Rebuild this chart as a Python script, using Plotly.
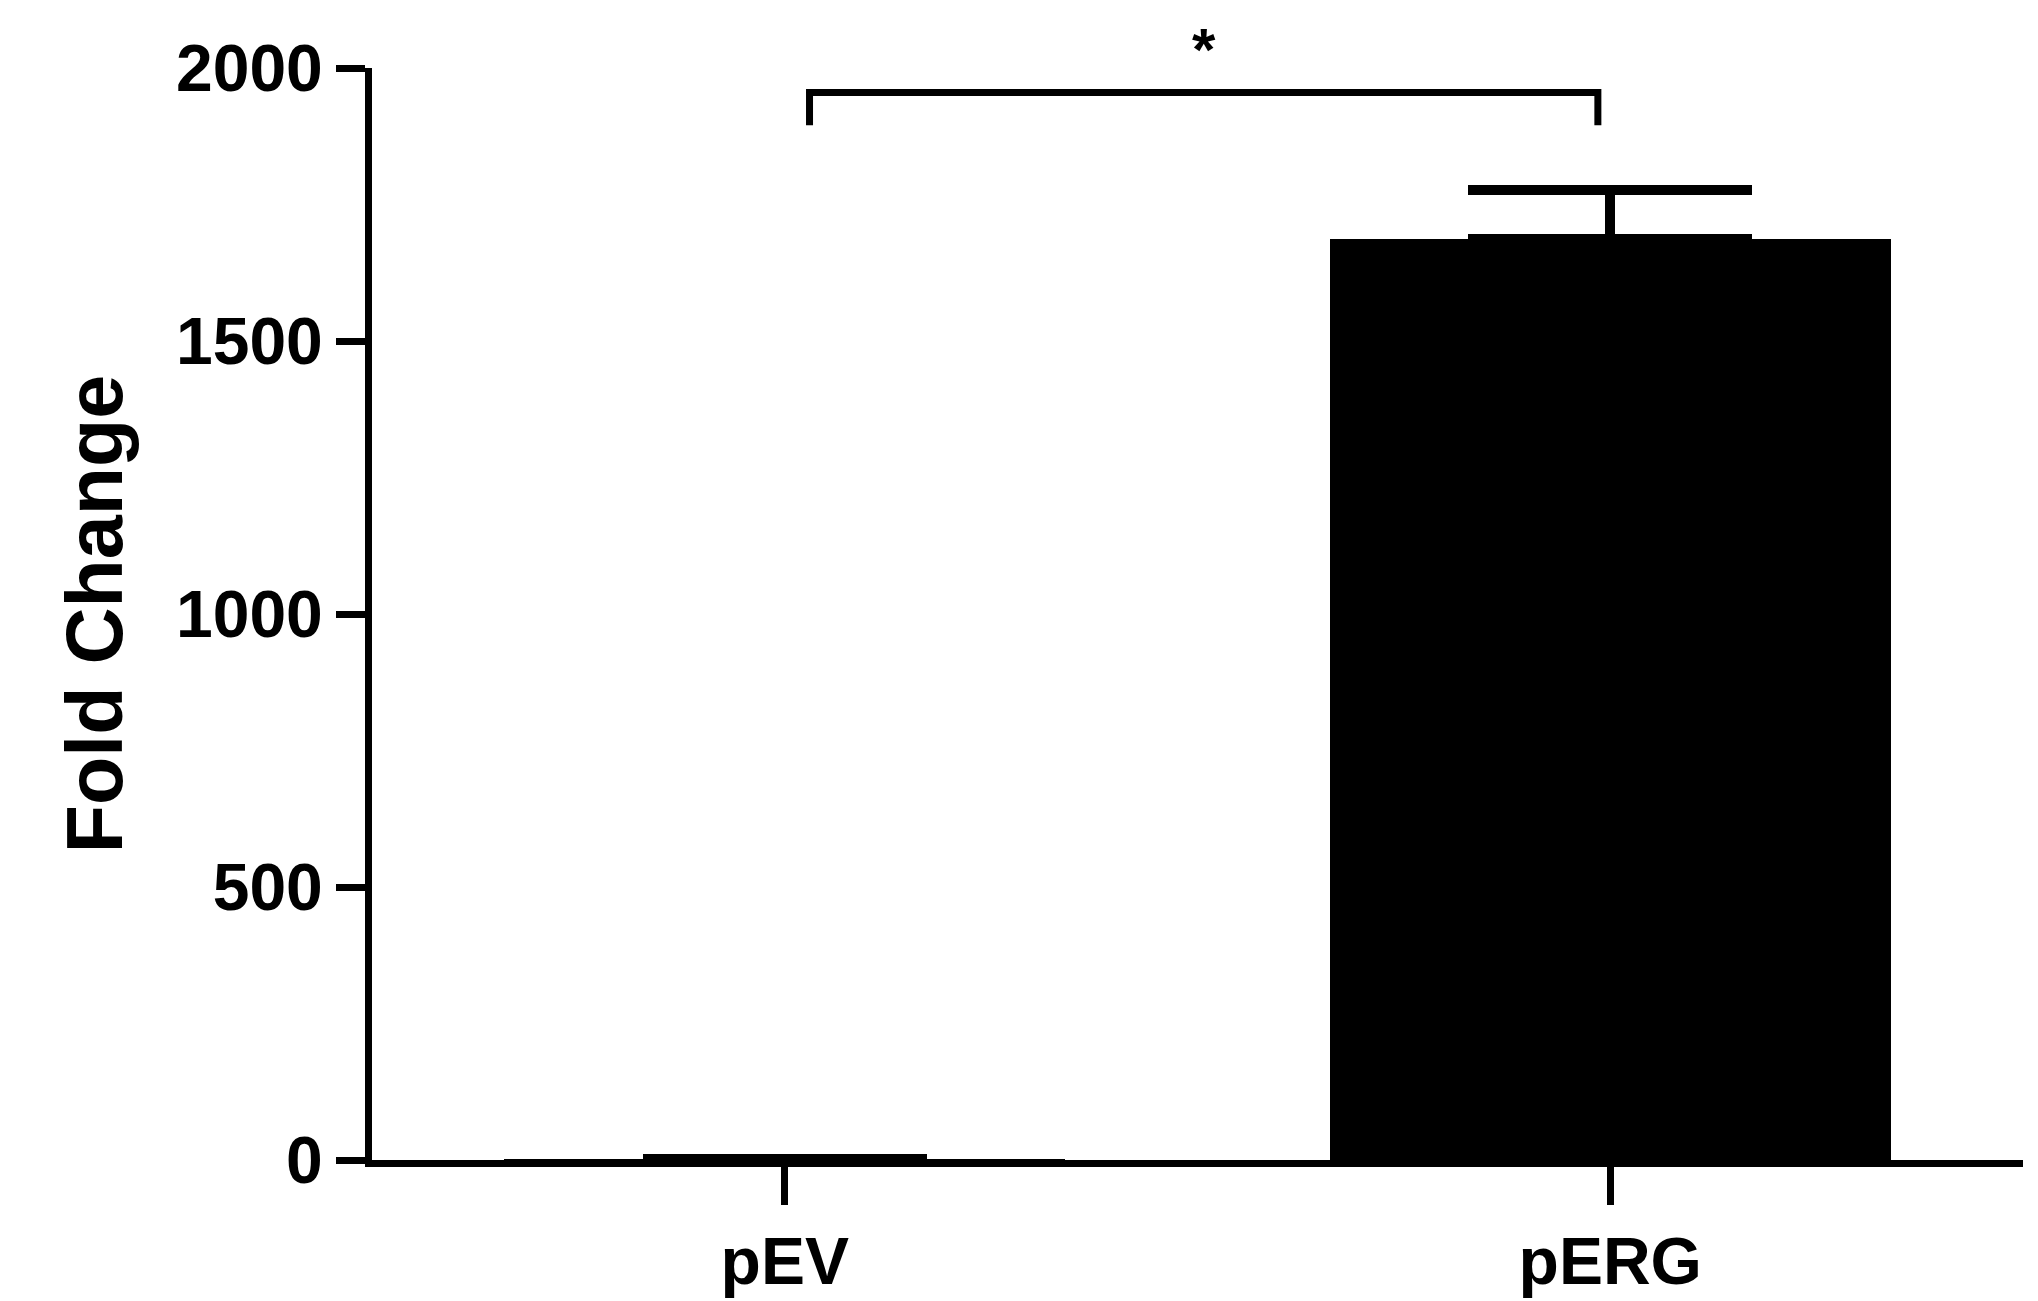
import plotly.graph_objects as go

categories = ["pEV", "pERG"]
values = [1, 1686]
err_plus = [0, 90]
y_ticks = [0, 500, 1000, 1500, 2000]
sig_label = "*"
bracket_y = 1955
bracket_drop = 1895

fig = go.Figure()
fig.add_trace(go.Bar(
    x=[0, 1], y=values, width=0.68,
    marker=dict(color="black", line=dict(width=0)),
    error_y=dict(type="data", symmetric=False, array=err_plus, arrayminus=[0, 0],
                 color="black", thickness=10, width=142),
    cliponaxis=False,
))
font = dict(family="Liberation Sans, Arial", size=66, color="black")
fig.update_layout(
    width=2038, height=1301, plot_bgcolor="white", paper_bgcolor="white",
    margin=dict(l=364, r=23, t=60, b=149), showlegend=False, bargap=0,
    font=font,
    xaxis=dict(range=[-0.5, 1.5], tickvals=[0, 1], ticktext=["<b>%s</b>" % c for c in categories],
               showline=True, linewidth=7, linecolor="black", ticks="outside",
               ticklen=38, tickwidth=7, tickcolor="black", showgrid=False, zeroline=False),
    yaxis=dict(range=[0, 2000], tickvals=y_ticks, ticktext=["<b>%d</b>" % v for v in y_ticks],
               showline=True, linewidth=7, linecolor="black", ticks="outside",
               ticklen=29, tickwidth=7, tickcolor="black", showgrid=False, zeroline=False,
               title=dict(text="<b>Fold Change</b>", standoff=30)),
)
x0, x1 = 0.03, 0.985
fig.add_shape(type="path", xref="x", yref="y",
              path=f"M {x0},{bracket_drop} L {x0},{bracket_y} L {x1},{bracket_y} L {x1},{bracket_drop}",
              line=dict(color="black", width=7))
fig.add_annotation(x=(x0 + x1) / 2, y=bracket_y, yshift=8, text="<b>%s</b>" % sig_label,
                   showarrow=False, yanchor="bottom", font=dict(size=60, family="Liberation Sans, Arial"))
fig.write_html("out.html")
